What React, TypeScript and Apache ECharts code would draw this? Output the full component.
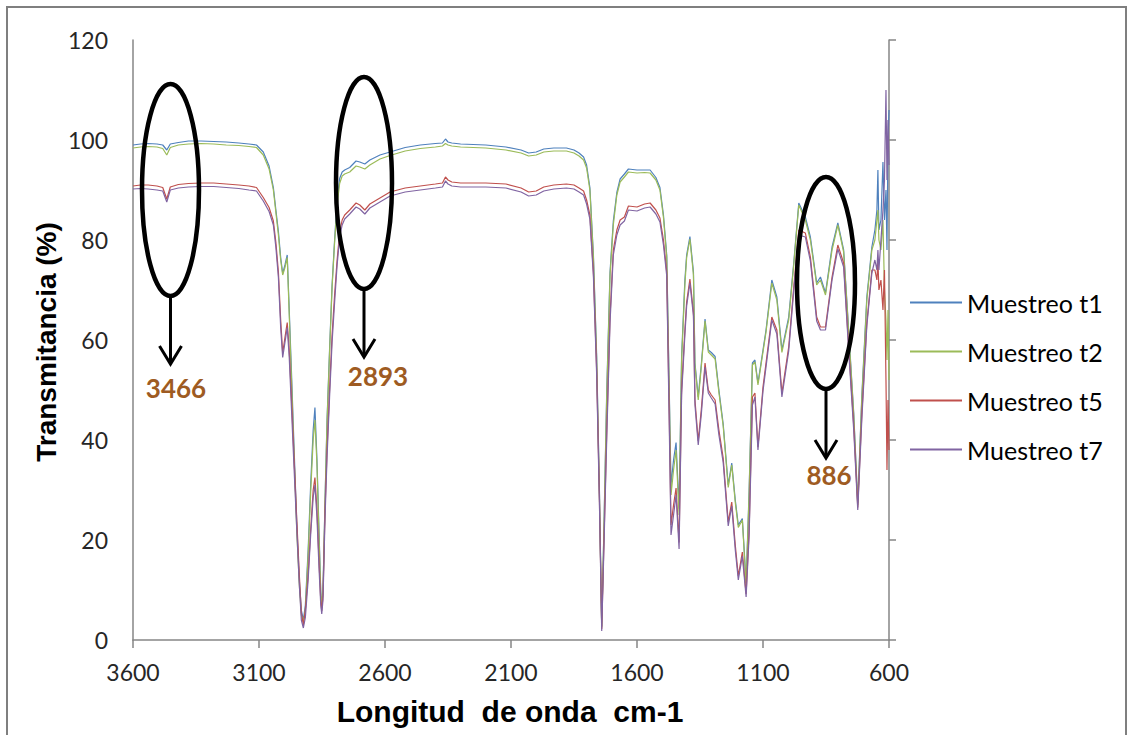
import React, { useEffect, useRef } from "react";
import * as echarts from "echarts";

// Wavenumber (cm-1) sampling points
const wavenumbers = [
  3600, 3570, 3540, 3505, 3482, 3466, 3452, 3420, 3380, 3330, 3280, 3230, 3180, 3140, 3110,
  3083, 3060, 3043, 3033, 3023, 3014, 3006, 2997, 2988, 2980, 2970, 2964, 2957, 2950, 2940, 2932, 2924, 2916, 2905, 2895, 2885, 2878, 2870, 2862, 2855, 2851,
  2846, 2838, 2830, 2820, 2810, 2800, 2790, 2780, 2770, 2760,
  2740, 2715, 2700, 2680, 2660, 2620, 2580, 2520, 2460, 2400, 2372, 2360, 2350, 2335, 2300, 2200, 2120, 2060, 2030, 2000, 1970, 1930, 1880, 1850, 1830, 1812,
  1800, 1787, 1773, 1760, 1749, 1740, 1731, 1720, 1707, 1694, 1680, 1667, 1650, 1634, 1600, 1570, 1548,
  1525, 1509, 1495, 1482, 1472, 1465, 1455, 1445, 1433, 1423, 1410, 1403, 1390, 1376, 1370, 1357, 1345, 1330, 1317, 1305, 1290, 1275, 1258, 1238, 1224, 1210, 1198, 1182, 1167,
  1155, 1142, 1132, 1120, 1100, 1088, 1065, 1045, 1025, 998, 978, 958, 932, 912, 887, 872, 852, 826, 803, 780, 760, 740, 724, 708, 688, 668,
  656, 648, 644, 640, 632, 624, 618, 612, 608, 604, 600,
];

const t1 = [
  99.0, 99.2, 99.3, 99.2, 99.0, 98.0, 99.2, 99.5, 99.8, 99.8, 99.7, 99.6, 99.4, 99.2, 99.0,
  97.6, 94.8, 90.5, 86.0, 81.7, 76.5, 73.3, 75.0, 77.0, 66.0, 52.0, 43.0, 33.0, 23.0, 12.0, 6.0, 4.0, 7.0, 18.0, 31.0, 42.0, 46.5, 36.0, 22.0, 10.0, 6.5,
  10.0, 28.0, 44.0, 58.0, 71.0, 80.0, 88.0, 92.3, 93.6, 94.0,
  94.5, 95.8, 95.6, 95.2, 96.0, 97.0, 97.6, 98.5, 99.0, 99.3, 99.4, 100.2, 99.6, 99.4, 99.2, 99.0, 98.6, 98.0, 97.4, 97.6, 98.2, 98.4, 98.4, 98.0, 97.4, 96.6,
  95.0, 90.5, 77.0, 56.8, 29.7, 2.7, 23.0, 50.0, 73.6, 83.8, 89.5, 92.2, 93.2, 94.2, 94.0, 94.0, 94.0,
  92.5, 90.5, 85.0, 77.0, 50.0, 31.0, 36.0, 39.5, 26.3, 56.7, 72.0, 77.0, 80.7, 73.6, 55.4, 48.6, 55.0, 64.2, 58.0, 57.5, 56.7, 50.0, 43.2, 31.0, 35.4, 28.0, 23.0, 24.3, 11.4,
  30.0, 55.4, 56.0, 51.4, 58.0, 62.0, 72.0, 68.6, 58.0, 64.6, 75.4, 87.4, 84.6, 80.6, 71.4, 72.6, 69.4, 78.6, 83.4, 78.0, 62.0, 45.4, 27.4, 48.6, 68.6, 78.6,
  82, 86, 94, 82, 84, 95.6, 84, 90, 78, 100, 106,
];

const t2 = [
  98.4, 98.6, 98.7, 98.6, 98.3, 97.0, 98.5, 99.0, 99.2, 99.3, 99.2, 99.0, 98.9, 98.7, 98.5,
  97.0, 94.2, 90.0, 85.5, 81.0, 76.0, 73.0, 74.5, 76.5, 65.0, 50.5, 41.5, 31.5, 21.5, 11.0, 5.0, 3.6, 6.0, 17.0, 29.5, 40.0, 44.0, 35.0, 21.0, 9.5, 6.5,
  10.0, 27.5, 43.5, 57.5, 70.5, 79.5, 87.0, 91.3, 92.8, 93.2,
  93.6, 94.8, 94.6, 94.2, 95.0, 96.2, 96.9, 97.8, 98.3, 98.6, 98.8, 99.3, 99.0, 98.8, 98.6, 98.4, 98.0, 97.4, 96.8, 97.0, 97.6, 97.8, 97.8, 97.4, 96.8, 96.0,
  94.4, 90.0, 76.5, 56.0, 29.0, 2.5, 22.5, 49.0, 73.0, 83.0, 89.0, 91.6, 92.6, 93.6, 93.4, 93.5, 93.4,
  92.0, 90.0, 84.5, 76.5, 49.0, 29.0, 34.0, 38.0, 25.0, 56.0, 71.0, 76.5, 80.2, 73.0, 55.0, 48.0, 54.5, 63.8, 57.6, 57.0, 56.2, 49.5, 42.8, 30.5, 35.0, 27.5, 22.5, 24.0, 11.0,
  29.5, 55.0, 55.6, 51.0, 57.6, 61.6, 71.4, 68.0, 57.5, 64.0, 75.0, 87.0, 84.0, 80.0, 71.0, 72.0, 69.0, 78.0, 83.0, 77.6, 61.6, 45.0, 27.0, 48.0, 68.0, 78.0,
  80, 84, 86, 80, 78, 84, 70, 64, 56, 66, 52,
];

const t5 = [
  90.8, 91.0, 91.0, 90.8, 90.5, 88.2, 90.6, 91.1, 91.3, 91.4, 91.4, 91.2, 91.0, 90.8, 90.5,
  88.5, 86.5, 83.8, 79.5, 73.6, 64.0, 57.4, 60.5, 63.5, 58.0, 47.0, 40.0, 32.0, 24.0, 13.0, 5.5, 3.0, 6.0, 13.0, 22.0, 30.0, 32.5, 26.0, 16.0, 8.0, 5.8,
  9.0, 26.0, 38.0, 50.0, 61.0, 69.0, 76.0, 81.5, 84.0, 85.0,
  86.0, 87.4, 87.0, 86.0, 87.2, 88.4, 89.6, 90.4, 90.8, 91.2, 91.4, 92.6, 92.0, 91.6, 91.4, 91.4, 91.2, 90.4, 89.6, 89.8, 90.6, 91.0, 91.2, 91.0, 90.4, 89.8,
  88.0, 85.0, 73.6, 54.0, 28.0, 2.2, 20.0, 42.0, 64.8, 78.0, 82.0, 84.0, 84.6, 86.8, 86.6, 87.2, 87.4,
  86.0, 84.4, 80.0, 73.6, 45.0, 23.0, 27.0, 30.4, 19.5, 50.0, 62.0, 67.6, 72.2, 65.5, 48.0, 39.8, 46.0, 55.4, 50.0, 49.0, 48.0, 42.0, 36.4, 23.6, 27.6, 19.0, 12.8, 17.6, 9.2,
  22.0, 48.6, 49.4, 38.6, 50.6, 55.4, 64.6, 62.0, 49.4, 58.6, 70.6, 82.0, 81.4, 76.6, 64.6, 62.6, 62.6, 72.6, 79.0, 75.4, 58.6, 43.0, 26.5, 45.0, 63.4, 74.0,
  74, 72, 76, 70, 72, 66, 74, 52, 34, 48, 38,
];

const t7 = [
  90.2, 90.3, 90.2, 90.0, 89.8, 87.6, 90.0, 90.4, 90.6, 90.7, 90.7, 90.5, 90.3, 90.0, 89.8,
  87.8, 85.7, 83.0, 78.5, 72.5, 62.5, 56.5, 59.5, 62.5, 56.5, 45.0, 38.0, 30.0, 22.0, 11.0, 4.0, 2.4, 4.5, 12.0, 21.0, 28.5, 31.0, 24.5, 14.5, 7.0, 5.2,
  8.0, 24.5, 36.5, 48.5, 59.5, 67.5, 75.0, 80.5, 83.0, 84.2,
  85.2, 86.6, 86.2, 85.2, 86.4, 87.6, 88.8, 89.6, 90.0, 90.4, 90.6, 91.8, 91.2, 90.8, 90.6, 90.6, 90.4, 89.6, 88.8, 89.0, 89.8, 90.2, 90.4, 90.2, 89.6, 89.0,
  87.2, 84.2, 72.8, 53.0, 27.0, 1.8, 19.0, 40.5, 63.5, 77.0, 81.0, 83.0, 83.8, 86.0, 85.8, 86.4, 86.6,
  85.2, 83.6, 79.0, 72.8, 43.0, 21.0, 25.0, 29.0, 18.2, 49.0, 61.0, 66.8, 71.4, 64.8, 47.0, 39.0, 45.0, 54.6, 49.4, 48.4, 47.2, 41.0, 35.5, 22.8, 26.8, 18.0, 12.0, 16.8, 8.6,
  21.0, 47.0, 48.6, 38.0, 49.8, 54.6, 64.0, 61.2, 48.6, 57.8, 69.8, 81.0, 80.6, 75.8, 63.8, 62.0, 62.0, 72.0, 78.2, 74.6, 57.8, 42.0, 26.0, 44.0, 62.8, 73.4,
  76, 74, 78, 74, 80, 86, 92, 110, 92, 104, 95,
];

const seriesNames = ["Muestreo t1", "Muestreo t2", "Muestreo t5", "Muestreo t7"];
const seriesValues = [t1, t2, t5, t7];
const seriesColors = ["#4F81BD", "#9BBB59", "#C0504D", "#8064A2"];

const annotationLabels = ["3466", "2893", "886"];

const AXIS_GRAY = "#868686";
const LABEL_COLOR = "#262626";
const NOTE_COLOR = "#9E5B22";

function ellipseMark(cx: number, cy: number, rx: number, ry: number) {
  return {
    type: "ellipse",
    shape: { cx, cy, rx, ry },
    style: { fill: "none", stroke: "#000", lineWidth: 4.5 },
    z: 50,
  };
}

function arrowMark(x: number, y1: number, y2: number) {
  return [
    {
      type: "line",
      shape: { x1: x, y1, x2: x, y2: y2 - 2 },
      style: { stroke: "#000", lineWidth: 3 },
      z: 50,
    },
    {
      type: "polyline",
      shape: { points: [[x - 11, y2 - 18], [x, y2], [x + 11, y2 - 18]] },
      style: { stroke: "#000", lineWidth: 3, fill: "none" },
      z: 50,
    },
  ];
}

function noteText(text: string, x: number, y: number) {
  return {
    type: "text",
    x,
    y,
    style: {
      text,
      fill: NOTE_COLOR,
      font: "bold 26px Lato",
      align: "center",
      verticalAlign: "middle",
    },
    z: 50,
  };
}

export default function App() {
  const ref = useRef<HTMLDivElement>(null);

  useEffect(() => {
    if (!ref.current) return;
    const chart = echarts.init(ref.current, null, { renderer: "svg" });

    const series = seriesNames.map((name, i) => ({
      name,
      type: "line",
      data: wavenumbers.map((w, j) => [w, seriesValues[i][j]]),
      showSymbol: false,
      symbol: "none",
      lineStyle: { width: 1.2, color: seriesColors[i] },
      itemStyle: { color: seriesColors[i] },
      z: 2 + i,
    }));

    chart.setOption({
      animation: false,
      backgroundColor: "#ffffff",
      grid: { left: 133, right: 239, top: 40, bottom: 95, containLabel: false },
      xAxis: {
        type: "value",
        inverse: true,
        min: 600,
        max: 3600,
        interval: 500,
        axisLine: { show: true, lineStyle: { color: AXIS_GRAY, width: 1.5 } },
        axisTick: { show: true, inside: false, length: 8, lineStyle: { color: AXIS_GRAY, width: 1.5 } },
        axisLabel: {
          color: LABEL_COLOR,
          fontSize: 23,
          fontFamily: "Lato",
          margin: 20,
          formatter: (v: number) => String(v),
        },
        splitLine: { show: false },
      },
      yAxis: [
        {
          type: "value",
          min: 0,
          max: 120,
          interval: 20,
          position: "left",
          axisLine: { show: true, onZero: false, lineStyle: { color: AXIS_GRAY, width: 1.5 } },
          axisTick: { show: false },
          axisLabel: {
            color: LABEL_COLOR,
            fontSize: 23,
            fontFamily: "Lato",
            margin: 25,
            formatter: (v: number) => String(v),
          },
          splitLine: { show: false },
        },
        {
          type: "value",
          min: 0,
          max: 120,
          interval: 20,
          position: "right",
          axisLine: { show: true, onZero: false, lineStyle: { color: AXIS_GRAY, width: 1.5 } },
          axisTick: { show: true, inside: false, length: 7, lineStyle: { color: AXIS_GRAY, width: 1.5 } },
          axisLabel: { show: false },
          splitLine: { show: false },
        },
      ],
      legend: {
        data: seriesNames,
        orient: "vertical",
        left: 905,
        top: 285,
        icon: "rect",
        itemWidth: 52,
        itemHeight: 2,
        itemGap: 24,
        textStyle: { fontSize: 25, fontFamily: "Lato", color: "#000", lineHeight: 24 },
      },
      series,
      graphic: [
        {
          type: "rect",
          shape: { x: 7, y: 7, width: 1119, height: 760 },
          style: { fill: "none", stroke: "#7f7f7f", lineWidth: 2 },
          silent: true,
        },
        {
          type: "text",
          x: 46,
          y: 342,
          rotation: Math.PI / 2,
          style: {
            text: "Transmitancia (%)",
            fill: "#000",
            font: "bold 28px 'Liberation Sans'",
            align: "center",
            verticalAlign: "middle",
          },
        },
        {
          type: "text",
          x: 510,
          y: 711,
          style: {
            text: "Longitud  de onda  cm-1",
            fill: "#000",
            font: "bold 30px 'Liberation Sans'",
            align: "center",
            verticalAlign: "middle",
          },
        },
        ellipseMark(170.5, 190, 28.5, 106),
        ...arrowMark(170.5, 296, 364),
        noteText(annotationLabels[0], 176, 388),
        ellipseMark(364, 183, 28, 106),
        ...arrowMark(364, 289, 357),
        noteText(annotationLabels[1], 378, 376),
        ellipseMark(826, 283, 29, 106),
        ...arrowMark(826, 389, 458),
        noteText(annotationLabels[2], 829, 475),
      ],
    });

    return () => chart.dispose();
  }, []);

  return (
    <div
      ref={ref}
      style={{ position: "absolute", left: 0, top: 0, width: 1128, height: 735, background: "#fff" }}
    />
  );
}
